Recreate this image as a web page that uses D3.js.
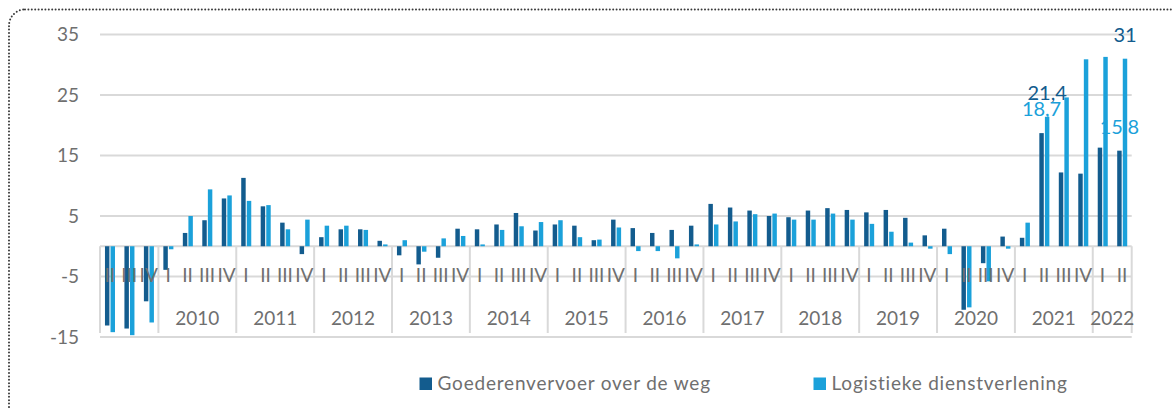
<!DOCTYPE html>
<html>
<head>
<meta charset="utf-8">
<script src="https://cdn.jsdelivr.net/npm/d3@7"></script>
<style>
  html, body { margin: 0; padding: 0; background: #fff; }
  svg { display: block; font-family: Lato, "Open Sans", sans-serif; }
</style>
</head>
<body>
<div id="chart"></div>
<script>
// periods: year + quarter (2009 starts at quarter II)
const years = ["2009", "2010", "2011", "2012", "2013", "2014", "2015", "2016",
  "2017", "2018", "2019", "2020", "2021", "2022"];
const yearLabels = ["", "2010", "2011", "2012", "2013", "2014", "2015", "2016",
  "2017", "2018", "2019", "2020", "2021", "2022"];
const quartersPerYear = [
  ["II", "III", "IV"],
  ["I", "II", "III", "IV"], ["I", "II", "III", "IV"], ["I", "II", "III", "IV"],
  ["I", "II", "III", "IV"], ["I", "II", "III", "IV"], ["I", "II", "III", "IV"],
  ["I", "II", "III", "IV"], ["I", "II", "III", "IV"], ["I", "II", "III", "IV"],
  ["I", "II", "III", "IV"], ["I", "II", "III", "IV"], ["I", "II", "III", "IV"],
  ["I", "II"]
];

const goederenvervoer = [
  -13.1, -13.6, -9.1,
  -3.9, 2.2, 4.3, 7.9,
  11.3, 6.6, 3.9, -1.3,
  1.5, 2.8, 2.8, 0.9,
  -1.5, -3.0, -1.9, 2.9,
  2.8, 3.6, 5.5, 2.6,
  3.6, 3.4, 1.0, 4.4,
  3.0, 2.2, 2.7, 3.4,
  7.0, 6.4, 5.9, 5.0,
  4.8, 5.9, 6.3, 6.0,
  5.6, 6.0, 4.7, 1.8,
  2.9, -10.5, -2.8, 1.6,
  1.4, 18.7, 12.2, 12.0,
  16.3, 15.8
];
const logistiek = [
  -14.2, -14.7, -12.6,
  -0.5, 5.0, 9.4, 8.4,
  7.5, 6.8, 2.8, 4.4,
  3.4, 3.4, 2.7, 0.3,
  1.0, -0.9, 1.3, 1.7,
  0.3, 2.7, 3.3, 4.0,
  4.3, 1.5, 1.1, 3.1,
  -0.8, -0.8, -2.0, 0.3,
  3.6, 4.1, 5.3, 5.4,
  4.4, 4.4, 5.4, 4.4,
  3.7, 2.4, 0.6, -0.4,
  -1.3, -10.1, -5.8, -0.4,
  3.9, 21.4, 24.6, 30.9,
  31.3, 31.0
];
const yTicks = [-15, -5, 5, 15, 25, 35];
const seriesNames = ["Goederenvervoer over de weg", "Logistieke dienstverlening"];
const colors = ["#135c8e", "#1ba1da"];

// labelled points: [period index, series index, text]
const labels = [
  [48, 1, "21,4"],
  [48, 0, "18,7"],
  [52, 1, "31"],
  [52, 0, "15,8"]
];

// build period list
const periods = [];
years.forEach((yr, yi) => quartersPerYear[yi].forEach(q => periods.push({ key: yr + "-" + q, year: yr, q })));

const width = 1173, height = 408;
const plot = { left: 100, right: 1131.7, top: 34.5, bottom: 337 };

const svg = d3.select("#chart").append("svg")
  .attr("width", width).attr("height", height);

const x = d3.scaleBand().domain(periods.map(p => p.key)).range([plot.left, plot.right]);
const xs = d3.scaleBand().domain([0, 1]).range([x.bandwidth() * 0.255, x.bandwidth() * 0.77]).paddingInner(0.2);
const y = d3.scaleLinear().domain([-15, 35]).range([plot.bottom, plot.top]);

const grid = "#d9d9d9", textCol = "#6f6f6f";

// gridlines
svg.append("g").selectAll("line").data(yTicks).join("line")
  .attr("x1", plot.left).attr("x2", plot.right)
  .attr("y1", d => y(d)).attr("y2", d => y(d))
  .attr("stroke", grid).attr("stroke-width", 2);

// y tick labels
svg.append("g").selectAll("text").data(yTicks).join("text")
  .attr("x", 79).attr("y", d => y(d)).attr("dy", "0.36em")
  .attr("text-anchor", "end").attr("font-size", 19).attr("fill", textCol)
  .text(d => d);

// zero axis line
svg.append("line").attr("x1", plot.left).attr("x2", plot.right)
  .attr("y1", y(0)).attr("y2", y(0)).attr("stroke", grid).attr("stroke-width", 2);

// year separators
const yearStarts = years.map((yr, i) => x(yr + "-" + quartersPerYear[i][0]));
yearStarts.push(plot.right);
svg.append("g").selectAll("line").data(yearStarts).join("line")
  .attr("x1", d => d).attr("x2", d => d)
  .attr("y1", y(0)).attr("y2", 333)
  .attr("stroke", grid).attr("stroke-width", 2);

// bars
const series = [goederenvervoer, logistiek];
series.forEach((vals, si) => {
  svg.append("g").selectAll("rect").data(vals).join("rect")
    .attr("x", (d, i) => x(periods[i].key) + xs(si))
    .attr("width", xs.bandwidth())
    .attr("y", d => y(Math.max(0, d)))
    .attr("height", d => Math.abs(y(d) - y(0)))
    .attr("fill", colors[si]);
});

// quarter labels (drawn over the bars, like the original)
svg.append("g").selectAll("text").data(periods).join("text")
  .attr("x", d => x(d.key) + x.bandwidth() / 2).attr("y", 282)
  .attr("text-anchor", "middle").attr("font-size", 19).attr("fill", textCol)
  .text(d => d.q);

// year labels
svg.append("g").selectAll("text").data(years).join("text")
  .attr("x", (d, i) => (yearStarts[i] + yearStarts[i + 1]) / 2).attr("y", 325)
  .attr("text-anchor", "middle").attr("font-size", 19).attr("fill", textCol)
  .text((d, i) => yearLabels[i]);

// data labels (colours swapped as in the original)
svg.append("g").selectAll("text").data(labels).join("text")
  .attr("x", d => x(periods[d[0]].key) + xs(d[1]) + xs.bandwidth() / 2)
  .attr("y", d => y(series[d[1]][d[0]]) - 17)
  .attr("text-anchor", "middle").attr("font-size", 20)
  .attr("fill", d => colors[1 - d[1]])
  .text(d => d[2]);

// legend
const legendX = [419.5, 813.5];
const lg = svg.append("g").selectAll("g").data(seriesNames).join("g")
  .attr("transform", (d, i) => `translate(${legendX[i]},377.5)`);
lg.append("rect").attr("width", 12.5).attr("height", 12.5).attr("fill", (d, i) => colors[i]);
lg.append("text").attr("x", 18).attr("y", 12.5)
  .attr("font-size", 19).attr("letter-spacing", 0.8).attr("fill", textCol).text(d => d);

// dotted frame
svg.append("rect")
  .attr("x", 9).attr("y", 9.5).attr("width", 1190).attr("height", 440)
  .attr("rx", 16).attr("fill", "none")
  .attr("stroke", "#3a3a3a").attr("stroke-width", 2)
  .attr("stroke-linecap", "round")
  .attr("stroke-dasharray", "0 3.4");
</script>
</body>
</html>
